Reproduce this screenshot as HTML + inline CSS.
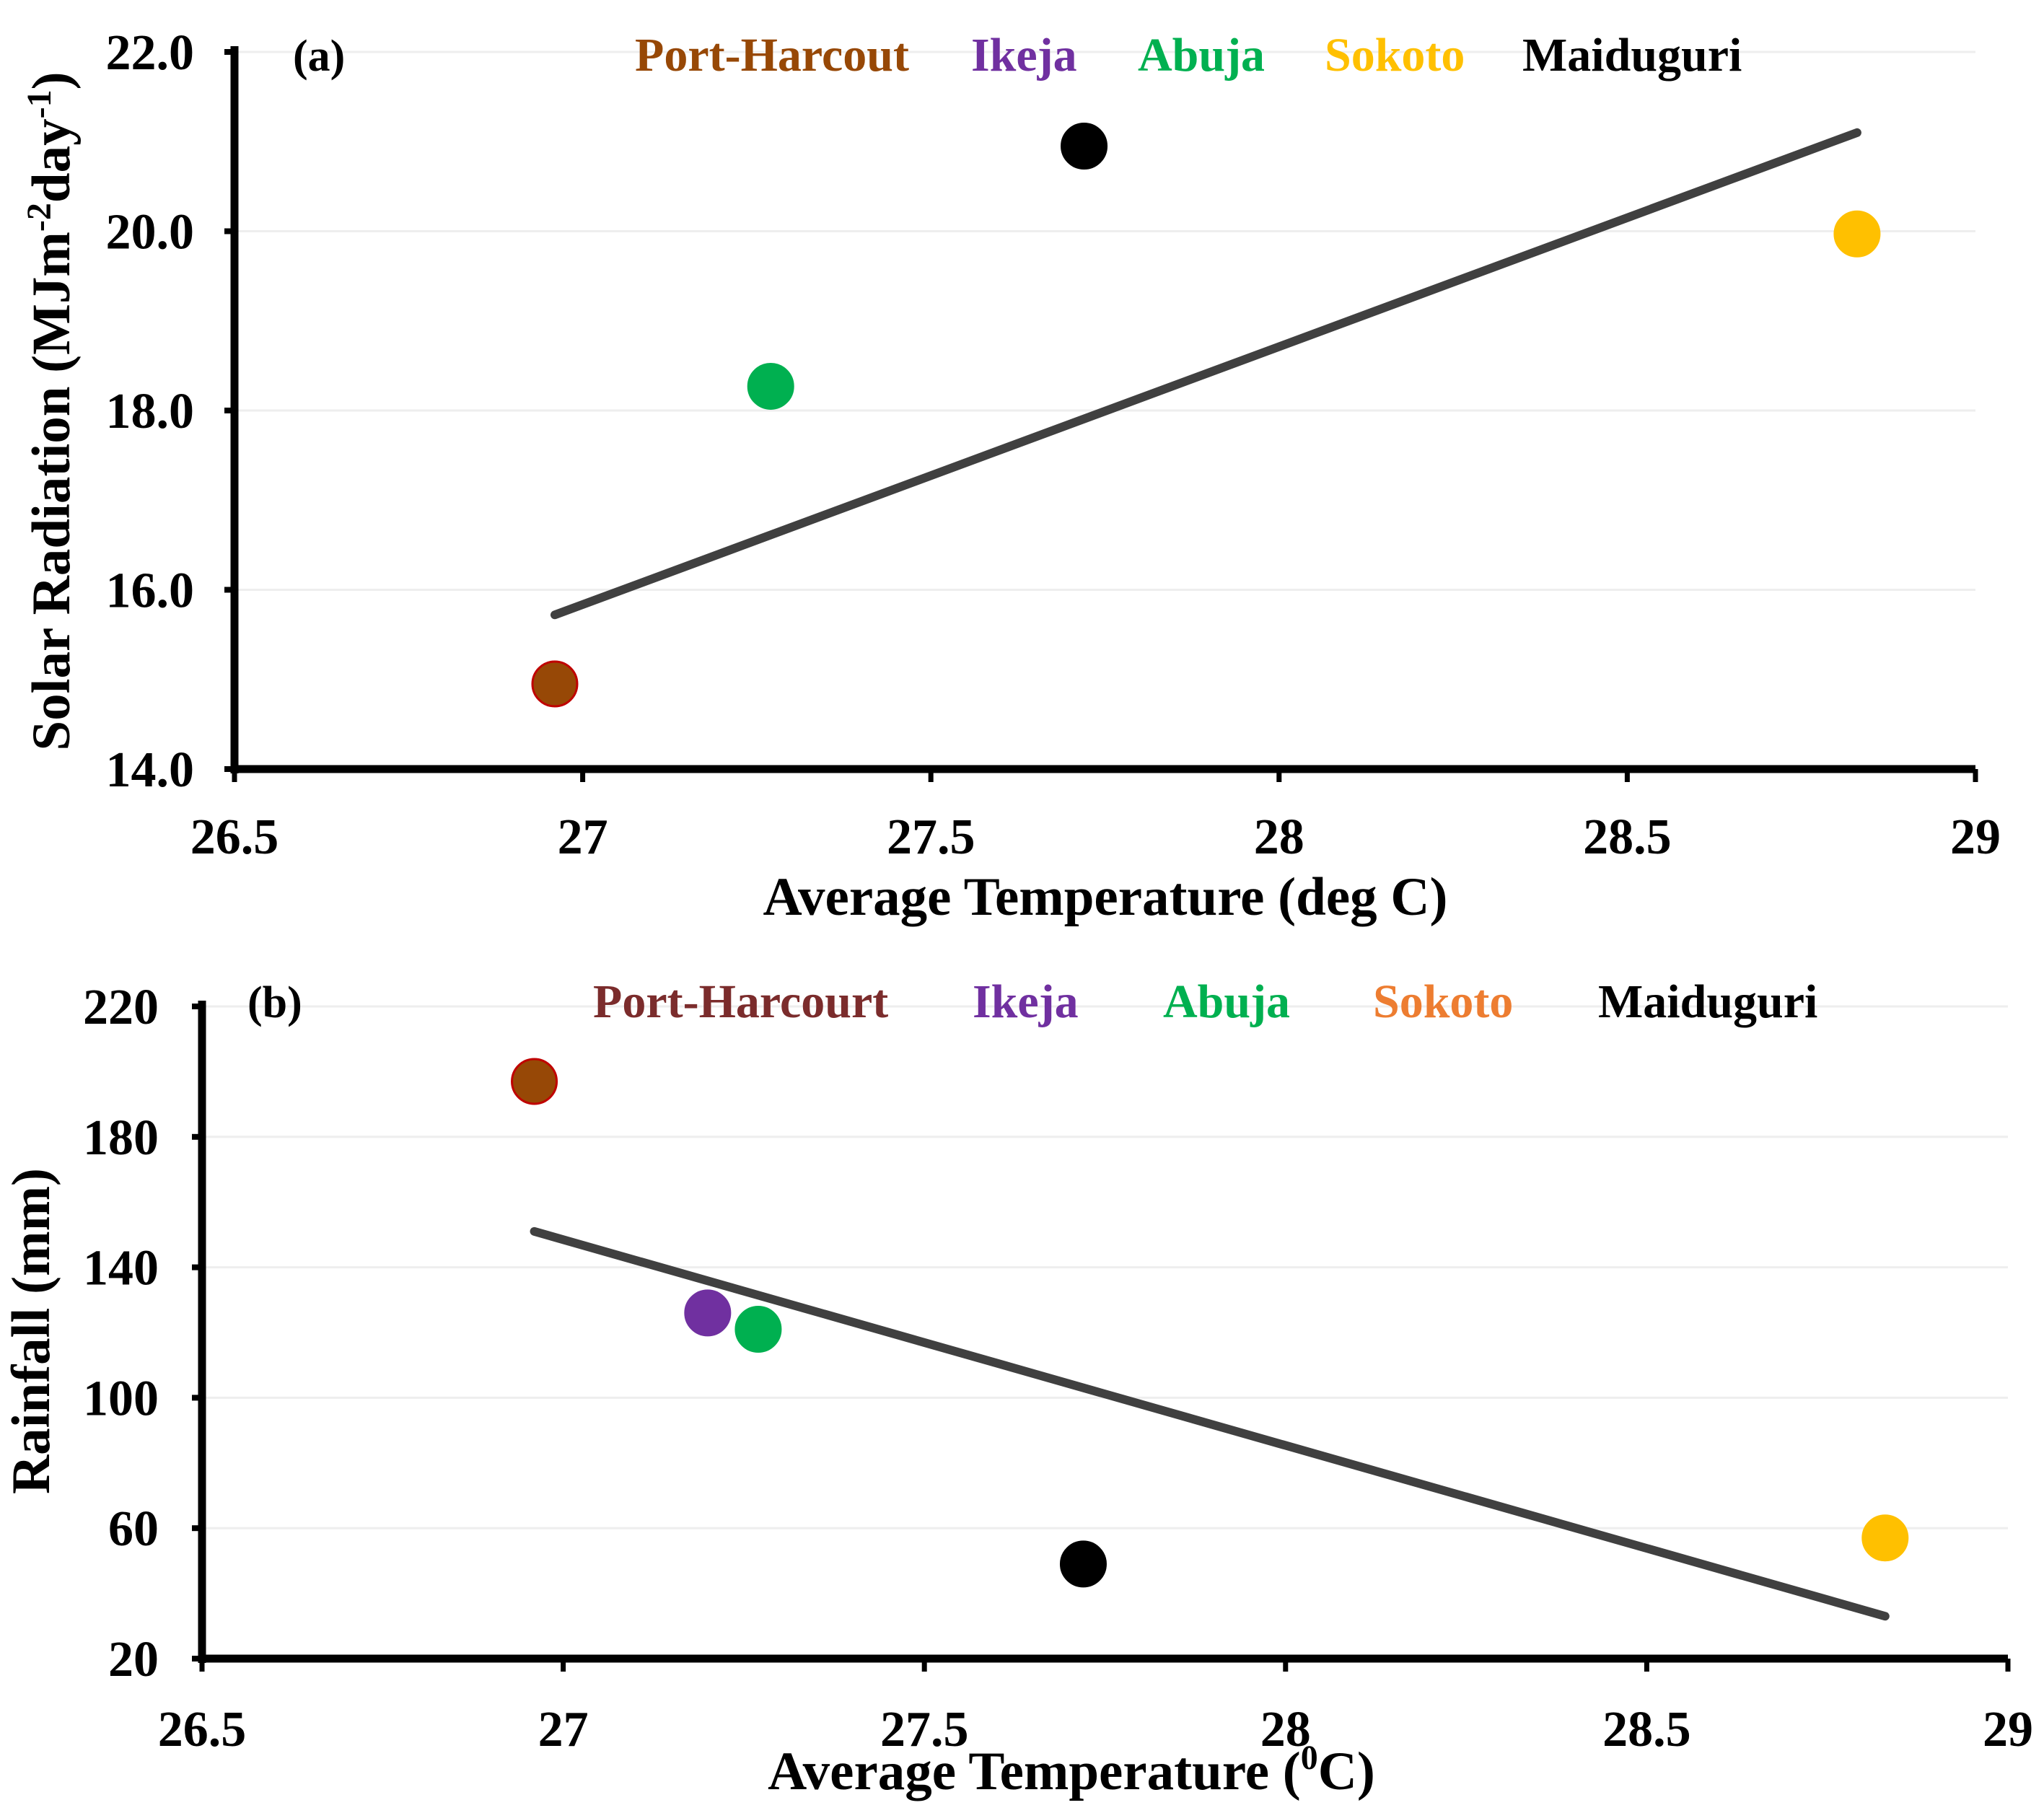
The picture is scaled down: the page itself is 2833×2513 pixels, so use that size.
<!DOCTYPE html>
<html><head><meta charset="utf-8"><style>
body{margin:0;background:#fff}
svg{display:block;font-family:"Liberation Serif",serif;font-weight:bold}
</style></head><body>
<svg id="c" width="2833" height="2513" viewBox="0 0 2833 2513"></svg>
<script>
const NS='http://www.w3.org/2000/svg';
const svg=document.getElementById('c');
// Panel (a) data
const xTicks=[26.5,27,27.5,28,28.5,29];
const xTickLabels=['26.5','27','27.5','28','28.5','29'];
const aYTicks=[14,16,18,20,22];
const aYTickLabels=['14.0','16.0','18.0','20.0','22.0'];
const aNames=['Port-Harcout','Abuja','Maiduguri','Sokoto'];
const aTemp=[26.96,27.27,27.72,28.83];
const aSolar=[14.95,18.27,20.95,19.97];
const aTrendX=[26.96,28.83];
const aTrendY=[15.72,21.1];
// Panel (b) data
const bYTicks=[20,60,100,140,180,220];
const bYTickLabels=['20','60','100','140','180','220'];
const bNames=['Port-Harcourt','Ikeja','Abuja','Maiduguri','Sokoto'];
const bTemp=[26.96,27.2,27.27,27.72,28.83];
const bRain=[197,126,121,49,57];
const bTrendX=[26.96,28.83];
const bTrendY=[151,33];

function el(tag,attrs,parent){const e=document.createElementNS(NS,tag);for(const k in attrs)e.setAttribute(k,attrs[k]);(parent||svg).appendChild(e);return e;}
function txt(s,attrs){const t=el('text',attrs);t.textContent=s;return t;}

function panel(cfg){
  const sx=v=>cfg.x0+(v-26.5)/(29-26.5)*(cfg.x1-cfg.x0);
  const sy=v=>cfg.y0-(v-cfg.ymin)/(cfg.ymax-cfg.ymin)*(cfg.y0-cfg.y1);
  cfg.yTicks.forEach((v,i)=>{
    if(i>0){const g=el('line',{x1:cfg.x0,x2:cfg.x1,y1:sy(v),y2:sy(v),stroke:'#eeeeee','stroke-width':3});
    
    }
    const t=txt(cfg.yLabels[i],{x:cfg.x0-cfg.pad,y:sy(v)+24,'text-anchor':'end','font-size':70});
    
    
    el('line',{x1:cfg.x0-14,x2:cfg.x0,y1:sy(v),y2:sy(v),stroke:'#000','stroke-width':8});
  });
  xTicks.forEach((v,i)=>{
    el('line',{x1:sx(v),x2:sx(v),y1:cfg.y0,y2:cfg.y0+18,stroke:'#000','stroke-width':7});
    const t=txt(xTickLabels[i],{x:sx(v),y:cfg.xlabY,'text-anchor':'middle','font-size':70});
    
    
  });
  const ya=el('line',{x1:cfg.x0,x2:cfg.x0,y1:cfg.y1-8,y2:cfg.y0+6,stroke:'#000','stroke-width':11});
  
  
  const xa=el('line',{x1:cfg.x0-5,x2:cfg.x1,y1:cfg.y0,y2:cfg.y0,stroke:'#000','stroke-width':11});
  
  
  cfg.temp.forEach((t,i)=>{
    const c=el('circle',{cx:sx(t),cy:sy(cfg.vals[i]),r:31,fill:cfg.colors[i],stroke:cfg.strokes[i],'stroke-width':3});
    
    
  });
  const tl=el('line',{x1:sx(cfg.tx[0]),y1:sy(cfg.ty[0]),x2:sx(cfg.tx[1]),y2:sy(cfg.ty[1]),stroke:'#404040','stroke-width':12,'stroke-linecap':'round'});
  
  
}

panel({x0:325,x1:2738,y0:1066,y1:72,ymin:14,ymax:22,yTicks:aYTicks,yLabels:aYTickLabels,pad:56,xlabY:1183,
  temp:aTemp,vals:aSolar,names:aNames,tx:aTrendX,ty:aTrendY,
  colors:['#974806','#00B050','#000000','#FFC000'],strokes:['#C00000','#00B050','#000','#FFC000']});
panel({x0:280,x1:2783,y0:2299,y1:1395,ymin:20,ymax:220,yTicks:bYTicks,yLabels:bYTickLabels,pad:60,xlabY:2420,
  temp:bTemp,vals:bRain,names:bNames,tx:bTrendX,ty:bTrendY,
  colors:['#974806','#7030A0','#00B050','#000000','#FFC000'],strokes:['#C00000','#7030A0','#00B050','#000','#FFC000']});
</script>
<svg width="2833" height="2513" style="position:absolute;left:0;top:0" font-family="Liberation Serif, serif" font-weight="bold">
<text x="406" y="98" font-size="62">(a)</text>
<text x="880" y="98" font-size="66" fill="#974806">Port-Harcout</text>
<text x="1346" y="98" font-size="66" fill="#7030A0">Ikeja</text>
<text x="1577" y="98" font-size="66" fill="#00B050">Abuja</text>
<text x="1836" y="98" font-size="66" fill="#FFC000">Sokoto</text>
<text x="2110" y="98" font-size="66" fill="#000">Maiduguri</text>
<text x="1532" y="1268" font-size="75" text-anchor="middle">Average Temperature (deg C)</text>
<text transform="translate(96,570) rotate(-90)" x="0" y="0" font-size="75" text-anchor="middle">Solar Radiation (MJm<tspan font-size="48" dy="-26">-2</tspan><tspan dy="26">day</tspan><tspan font-size="48" dy="-26">-1</tspan><tspan dy="26">)</tspan></text>
<text x="343" y="1410" font-size="62">(b)</text>
<text x="822" y="1410" font-size="66" fill="#7B2C2C">Port-Harcourt</text>
<text x="1348" y="1410" font-size="66" fill="#7030A0">Ikeja</text>
<text x="1612" y="1410" font-size="66" fill="#00B050">Abuja</text>
<text x="1903" y="1410" font-size="66" fill="#ED7D31">Sokoto</text>
<text x="2215" y="1410" font-size="66" fill="#000">Maiduguri</text>
<text x="1485" y="2480" font-size="75" text-anchor="middle">Average Temperature (<tspan font-size="48" dy="-28">0</tspan><tspan dy="28">C)</tspan></text>
<text transform="translate(68,1845) rotate(-90)" x="0" y="0" font-size="75" text-anchor="middle">Rainfall (mm)</text>
</svg>
</body></html>
